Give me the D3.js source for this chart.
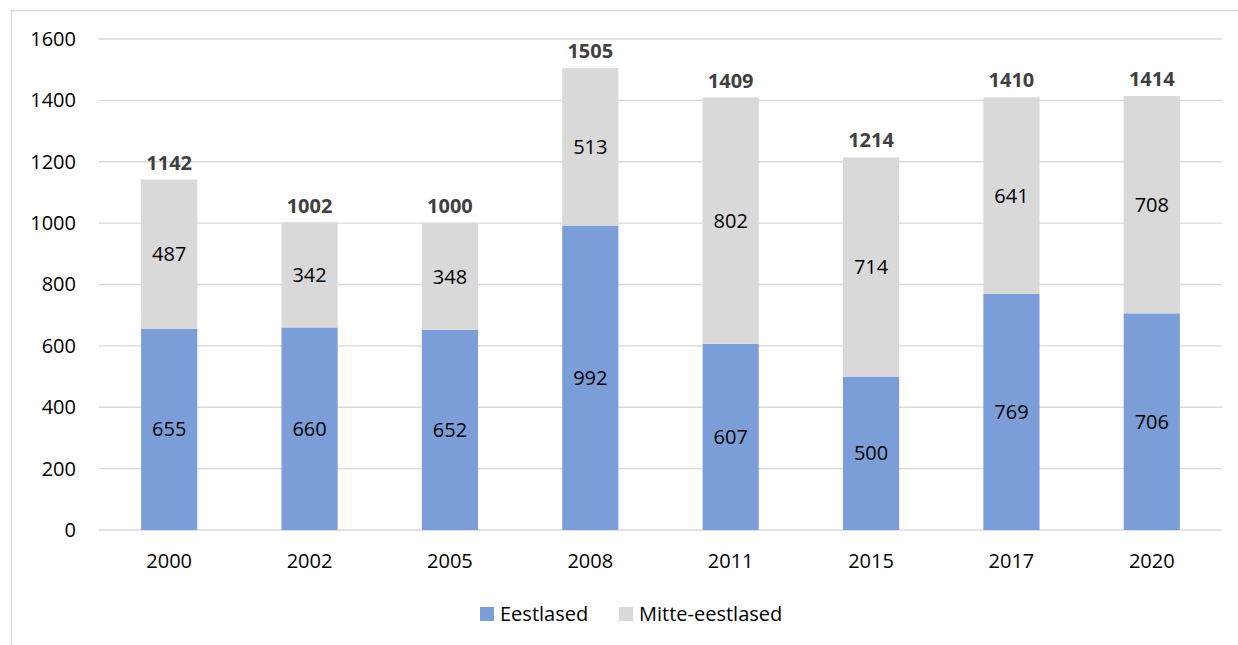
<!DOCTYPE html>
<html>
<head>
<meta charset="utf-8">
<script src="https://cdn.jsdelivr.net/npm/d3@7"></script>
<style>
  body { margin: 0; background: #fff; }
  svg text { font-family: "Open Sans", "Noto Sans", sans-serif; }
</style>
</head>
<body>
<div id="svg-container"></div>
<script>
const w = 1238;
const h = 645;

const years = ["2000", "2002", "2005", "2008", "2011", "2015", "2017", "2020"];
const eestlased = [655, 660, 652, 992, 607, 500, 769, 706];
const mitteEestlased = [487, 342, 348, 513, 802, 714, 641, 708];
const totals = [1142, 1002, 1000, 1505, 1409, 1214, 1410, 1414];
const yTicks = [0, 200, 400, 600, 800, 1000, 1200, 1400, 1600];
const seriesNames = ["Eestlased", "Mitte-eestlased"];
const colors = ["#7b9ed8", "#d9d9d9"];

const plotLeft = 99, plotRight = 1222, plotTop = 39, plotBottom = 530;
const fontSize = 20;

const svg = d3.select("#svg-container")
    .append("svg")
    .attr("width", w)
    .attr("height", h);

// outer chart frame
svg.append("rect")
    .attr("x", 11.5).attr("y", 10.5)
    .attr("width", w).attr("height", h)
    .attr("fill", "none")
    .attr("stroke", "#d9d9d9")
    .attr("stroke-width", 1.5);

let xScale = d3.scaleBand()
    .domain(years)
    .range([plotLeft, plotRight])
    .paddingInner(0.6)
    .paddingOuter(0.3);

let yScale = d3.scaleLinear()
    .domain([0, 1600])
    .range([plotBottom, plotTop]);

// gridlines
svg.append("g")
    .selectAll("line")
    .data(yTicks)
    .enter()
    .append("line")
    .attr("x1", plotLeft).attr("x2", plotRight)
    .attr("y1", d => yScale(d)).attr("y2", d => yScale(d))
    .attr("stroke", "#d9d9d9")
    .attr("stroke-width", 1.3);

let yAxis = d3.axisLeft(yScale).tickValues(yTicks).tickFormat(d3.format("d")).tickSize(0).tickPadding(23);
svg.append("g")
    .attr("transform", "translate(" + plotLeft + ", 0)")
    .call(yAxis)
    .call(g => g.select(".domain").remove())
    .call(g => g.selectAll("text").attr("font-size", fontSize).attr("fill", "#000"));

let xAxis = d3.axisBottom(xScale).tickSize(0).tickPadding(24);
svg.append("g")
    .attr("transform", "translate(0, " + plotBottom + ")")
    .call(xAxis)
    .call(g => g.select(".domain").remove())
    .call(g => g.selectAll("text").attr("font-size", fontSize).attr("fill", "#000"));

const stacked = years.map((y, i) => ({ year: y, a: eestlased[i], b: mitteEestlased[i], total: totals[i] }));

// blue segments
svg.selectAll(".bar-a")
    .data(stacked)
    .enter()
    .append("rect")
    .attr("class", "bar-a")
    .attr("x", d => xScale(d.year))
    .attr("width", xScale.bandwidth())
    .attr("y", d => yScale(d.a))
    .attr("height", d => yScale(0) - yScale(d.a))
    .attr("fill", colors[0]);

// gray segments
svg.selectAll(".bar-b")
    .data(stacked)
    .enter()
    .append("rect")
    .attr("class", "bar-b")
    .attr("x", d => xScale(d.year))
    .attr("width", xScale.bandwidth())
    .attr("y", d => yScale(d.a + d.b))
    .attr("height", d => yScale(d.a) - yScale(d.a + d.b))
    .attr("fill", colors[1]);

const cx = d => xScale(d.year) + xScale.bandwidth() / 2;

svg.selectAll(".lab-a")
    .data(stacked)
    .enter()
    .append("text")
    .attr("x", cx)
    .attr("y", d => yScale(d.a / 2))
    .attr("dy", "0.35em")
    .attr("text-anchor", "middle")
    .attr("font-size", fontSize)
    .attr("fill", "#000")
    .text(d => d.a);

svg.selectAll(".lab-b")
    .data(stacked)
    .enter()
    .append("text")
    .attr("x", cx)
    .attr("y", d => yScale(d.a + d.b / 2))
    .attr("dy", "0.35em")
    .attr("text-anchor", "middle")
    .attr("font-size", fontSize)
    .attr("fill", "#000")
    .text(d => d.b);

svg.selectAll(".lab-total")
    .data(stacked)
    .enter()
    .append("text")
    .attr("x", cx)
    .attr("y", d => yScale(d.total) - 10)
    .attr("text-anchor", "middle")
    .attr("font-size", fontSize)
    .attr("font-weight", "bold")
    .attr("fill", "#404040")
    .text(d => d.total);

// legend
const legendX = [480, 619];
const legend = svg.selectAll(".legend")
    .data(seriesNames)
    .enter()
    .append("g")
    .attr("transform", (d, i) => "translate(" + legendX[i] + ", 607)");

legend.append("rect")
    .attr("width", 14).attr("height", 14)
    .attr("fill", (d, i) => colors[i]);

legend.append("text")
    .attr("x", 20)
    .attr("y", 14)
    .attr("font-size", fontSize)
    .attr("fill", "#000")
    .text(d => d);
</script>
</body>
</html>
